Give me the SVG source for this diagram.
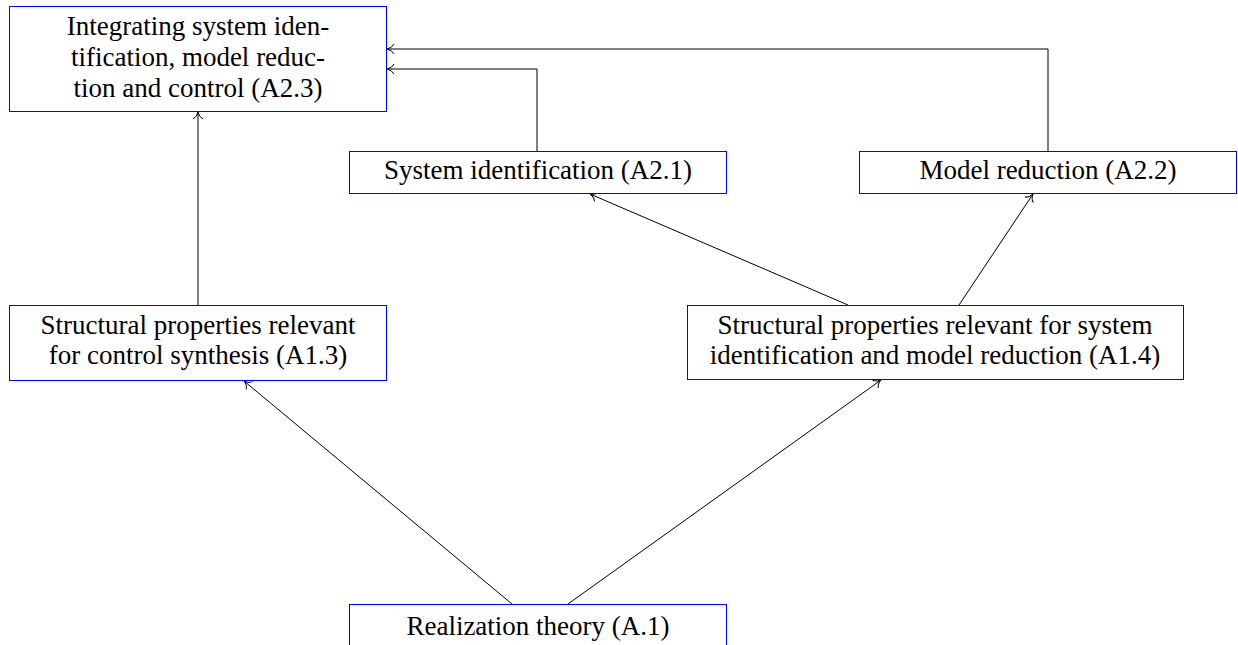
<svg xmlns="http://www.w3.org/2000/svg" width="1238" height="645" viewBox="0 0 1238 645">
<style>
.box{fill:#fff;stroke:#0000ff;stroke-width:1}
.t{font-size:27px;fill:#000;text-anchor:middle}
.c{fill:none;stroke:#000;stroke-width:1}
</style>
<defs>
<marker id="ah" markerWidth="12" markerHeight="12" refX="10" refY="6" orient="auto" markerUnits="userSpaceOnUse">
<path d="M3,1 Q5,5 10,6 Q5,7 3,11" fill="none" stroke="#000" stroke-width="1"/>
</marker>
</defs>
<rect width="1238" height="645" fill="#fff"/>
<g id="connectors">
<path class="c" d="M198,305 L198,112" marker-end="url(#ah)"/>
<path class="c" d="M537,151 L537,69 L387,69" marker-end="url(#ah)"/>
<path class="c" d="M1048,151 L1048,49 L387,49" marker-end="url(#ah)"/>
<path class="c" d="M848,305 L590,194" marker-end="url(#ah)"/>
<path class="c" d="M959,305 L1033,194" marker-end="url(#ah)"/>
<path class="c" d="M512,604 L244,381" marker-end="url(#ah)"/>
<path class="c" d="M568,604 L881,380" marker-end="url(#ah)"/>
</g>
<g id="nodes" font-family="Liberation Serif, serif">
<g id="A23">
<rect class="box" x="9.5" y="6.5" width="377" height="105"/>
<text class="t" x="198" y="35">Integrating system iden-</text>
<text class="t" x="198" y="66">tification, model reduc-</text>
<text class="t" x="198" y="97">tion and control (A2.3)</text>
</g>
<g id="A21">
<rect class="box" x="349.5" y="151.5" width="377" height="42"/>
<text class="t" x="538" y="179">System identification (A2.1)</text>
</g>
<g id="A22">
<rect class="box" x="859.5" y="151.5" width="377" height="42"/>
<text class="t" x="1048" y="179">Model reduction (A2.2)</text>
</g>
<g id="A13">
<rect class="box" x="9.5" y="305.5" width="377" height="75"/>
<text class="t" x="198" y="334">Structural properties relevant</text>
<text class="t" x="198" y="364">for control synthesis (A1.3)</text>
</g>
<g id="A14">
<rect class="box" x="687.5" y="305.5" width="496" height="74"/>
<text class="t" x="935" y="334">Structural properties relevant for system</text>
<text class="t" x="935" y="364">identification and model reduction (A1.4)</text>
</g>
<g id="A1">
<rect class="box" x="349.5" y="604.5" width="377" height="60"/>
<text class="t" x="538" y="635">Realization theory (A.1)</text>
</g>
</g>
</svg>
